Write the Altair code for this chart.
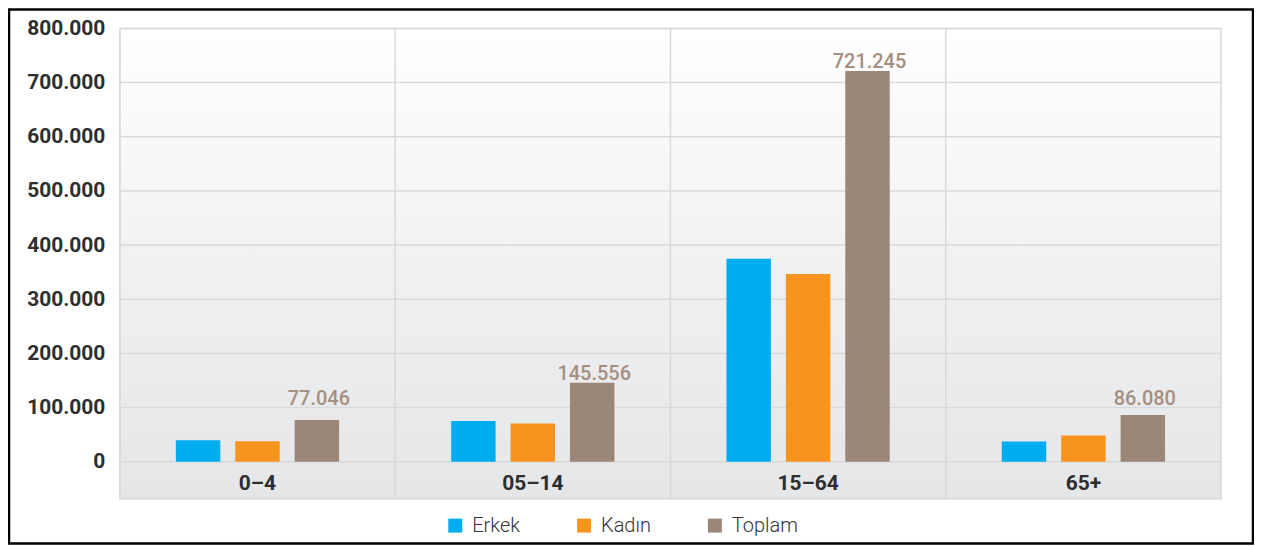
import altair as alt
import pandas as pd

categories = ["0–4", "05–14", "15–64", "65+"]
series = ["Erkek", "Kadın", "Toplam"]
erkek = [39500, 75000, 374500, 37500]
kadin = [37546, 70556, 346745, 48580]
toplam = [77046, 145556, 721245, 86080]
colors = ["#00AEEF", "#F7941E", "#9C8677"]
y_ticks = [0, 100000, 200000, 300000, 400000, 500000, 600000, 700000, 800000]

rows = []
for i, c in enumerate(categories):
    for s, vals in zip(series, [erkek, kadin, toplam]):
        rows.append({"grup": c, "cins": s, "deger": vals[i]})
df = pd.DataFrame(rows)

lab = pd.DataFrame({
    "grup": categories,
    "cins": ["Toplam"] * len(categories),
    "deger": toplam,
    "etiket": [f"{v:,}".replace(",", ".") for v in toplam],
})
ticks_df = pd.DataFrame({"v": y_ticks})
cats_df = pd.DataFrame({"grup": categories})

W, H = 1103, 471
FONT = "Roboto"
GRID = "#d9d9d9"

y_scale = alt.Scale(domain=[-68200, 800000], nice=False, zero=False)
x_scale = alt.Scale(domain=categories, paddingInner=0, paddingOuter=0)
xo_scale = alt.Scale(domain=series, paddingInner=0.252, paddingOuter=0.943)

x_axis = alt.Axis(
    title=None, domain=False, ticks=False, labelAngle=0, grid=False, zindex=1,
    labelPadding=-15, labelBaseline="middle",
    labelFont=FONT, labelFontSize=21, labelFontWeight="bold", labelColor="#2e2e2e",
)
y_axis = alt.Axis(
    title=None, domain=False, ticks=False, values=y_ticks, grid=False,
    labelExpr="replace(format(datum.value, ','), ',', '.')",
    labelPadding=15, labelBaseline="middle",
    labelFont=FONT, labelFontSize=21, labelFontWeight="bold", labelColor="#2e2e2e",
)

bg = alt.Chart(pd.DataFrame({"k": [0]})).mark_rect(
    fill=alt.LinearGradient(
        gradient="linear", x1=0, x2=0, y1=0, y2=1,
        stops=[alt.GradientStop(color="#ffffff", offset=0),
               alt.GradientStop(color="#f1f1f2", offset=0.5),
               alt.GradientStop(color="#e5e6e8", offset=1)],
    ),
    stroke=GRID, strokeWidth=1.5,
).encode(x=alt.value(0), x2=alt.value(W), y=alt.value(0), y2=alt.value(H))

hgrid = alt.Chart(ticks_df).mark_rule(color=GRID, strokeWidth=1.5).encode(
    y=alt.Y("v:Q", scale=y_scale, axis=y_axis),
    x=alt.value(0), x2=alt.value(W),
)

vgrid = alt.Chart(cats_df).mark_rule(color=GRID, strokeWidth=1.5).encode(
    x=alt.X("grup:N", sort=categories, scale=x_scale, axis=x_axis, bandPosition=0),
    y=alt.value(0), y2=alt.value(H),
)

bars = alt.Chart(df).mark_bar().encode(
    x=alt.X("grup:N", sort=categories, scale=x_scale, axis=x_axis),
    xOffset=alt.XOffset("cins:N", sort=series, scale=xo_scale),
    y=alt.Y("deger:Q", scale=y_scale, axis=y_axis),
    color=alt.Color(
        "cins:N", sort=series,
        scale=alt.Scale(domain=series, range=colors),
        legend=alt.Legend(
            orient="none", legendX=326, legendY=488, direction="horizontal",
            title=None, symbolType="square", symbolSize=196, symbolStrokeWidth=0,
            labelFont=FONT, labelFontSize=20, labelFontWeight=300, labelColor="#333333",
            labelOffset=7, columnPadding=54, padding=0,
        ),
    ),
)

labels = alt.Chart(lab).transform_calculate(
    ly="max(datum.deger, 100000)"
).mark_text(
    font=FONT, fontSize=20, fontWeight=500, color="#a48f81",
    baseline="alphabetic", align="center", dy=-3, dx=2,
).encode(
    x=alt.X("grup:N", sort=categories, scale=x_scale),
    xOffset=alt.XOffset("cins:N", sort=series, scale=xo_scale),
    y=alt.Y("ly:Q", scale=y_scale),
    text="etiket:N",
)

frame = alt.Chart(pd.DataFrame({"k": [0]})).mark_rect(
    filled=False, stroke="#000000", strokeWidth=2.5
).encode(
    x=alt.value(-111), x2=alt.value(W + 32),
    y=alt.value(-19), y2=alt.value(H + 45),
)

chart = alt.layer(bg, hgrid, vgrid, bars, labels, frame).properties(
    width=W, height=H,
    autosize=alt.AutoSizeParams(type="none"),
    padding={"left": 112, "top": 20, "right": 33, "bottom": 46},
    background="white",
).configure_view(stroke=None)

chart.save("out.html", embed_options={"renderer": "svg", "actions": False})
